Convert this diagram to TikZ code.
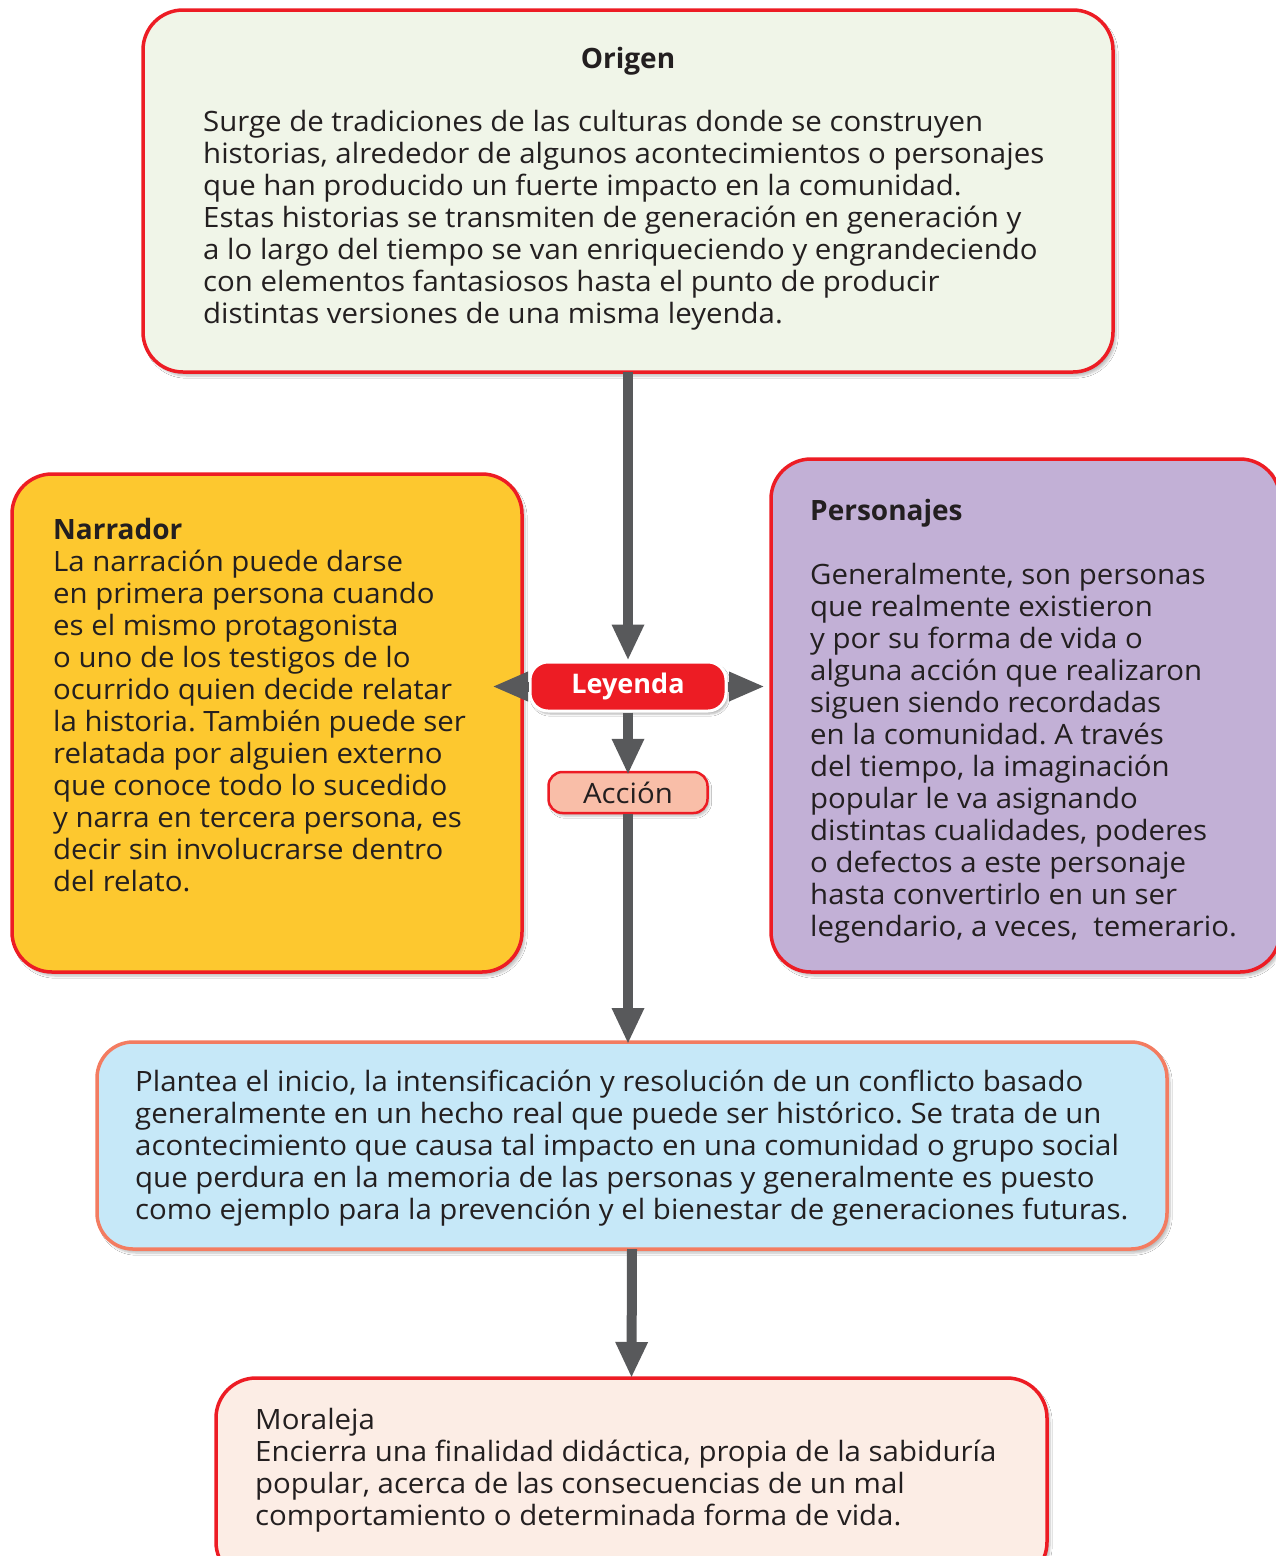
\documentclass[tikz,border=0pt]{standalone}
\usepackage{fontspec}
\setmainfont{Open Sans}[FakeStretch=1.05]
\newfontfamily\titlefont{Open Sans}
\usetikzlibrary{arrows.meta,shadows.blur}
\definecolor{txtc}{HTML}{231F20}
\definecolor{redb}{HTML}{ED1C24}
\definecolor{origenf}{HTML}{F0F5E8}
\definecolor{yellowf}{HTML}{FDC82F}
\definecolor{purplef}{HTML}{C2B0D6}
\definecolor{bluef}{HTML}{C6E8F8}
\definecolor{salmonb}{HTML}{F37C61}
\definecolor{moralf}{HTML}{FCEDE5}
\definecolor{accionf}{HTML}{F9BEA8}
\definecolor{arrowc}{HTML}{58595B}
\begin{document}
\begin{tikzpicture}[x=1pt,y=-1pt,
  box/.style={draw=redb, line width=3.5pt, rounded corners=40pt, inner sep=0pt, outer sep=0pt,
    blur shadow={shadow xshift=3pt, shadow yshift=-4pt, shadow blur steps=6, shadow opacity=25}},
  txt/.style={anchor=north west, inner sep=0pt, align=left, text=txtc,
    font=\fontsize{28}{32}\selectfont\frenchspacing},
  conn/.style={draw=arrowc, line width=10pt, -{Triangle[width=30pt,length=36pt]}},
  side/.style={draw=arrowc, line width=10pt, -{Triangle[width=27pt,length=36pt]}}
]
\useasboundingbox (0,0) rectangle (1275,1556);
\fill[white] (0,0) rectangle (1275,1556);

% boxes
\node[box, fill=origenf, minimum width=970pt, minimum height=362pt] (origen) at (628,191) {};
\node[box, fill=yellowf, minimum width=510pt, minimum height=498pt] (narrador) at (267,723) {};
\node[box, fill=purplef, minimum width=509pt, minimum height=513pt] (personajes) at (1025.5,715.5) {};
\node[box, draw=salmonb, fill=bluef, rounded corners=36pt, minimum width=1070pt, minimum height=207pt] (accionbox) at (632,1145.5) {};
\node[box, fill=moralf, minimum width=831pt, minimum height=204pt] (moraleja) at (631.5,1480) {};

% Leyenda and Accion
\node[draw=white, fill=redb, line width=3pt, rounded corners=18pt, minimum width=196pt, minimum height=49pt,
  inner sep=0pt, text=white, font=\titlefont\fontsize{27}{32}\selectfont\bfseries,
  blur shadow={shadow xshift=2pt, shadow yshift=-3pt, shadow blur steps=5, shadow opacity=30}] (leyenda) at (628,686.5) {Leyenda};
\node[draw=redb, fill=accionf, line width=2.5pt, rounded corners=14pt, minimum width=159pt, minimum height=41pt,
  inner sep=0pt, text=txtc, font=\fontsize{28}{32}\selectfont,
  blur shadow={shadow xshift=2pt, shadow yshift=-3pt, shadow blur steps=5, shadow opacity=25}] (accion) at (628,792.5) {Acción};

% texts
\node[inner sep=0pt, anchor=base, text=txtc, font=\titlefont\fontsize{28}{32}\selectfont\bfseries] (origentitle) at (628,68) {Origen};
\node[txt] (origentext) at (203,108.6) {\strut Surge de tradiciones de las culturas donde se construyen\\
historias, alrededor de algunos acontecimientos o personajes\\
que han producido un fuerte impacto en la comunidad.\\
Estas historias se transmiten de generación en generación y\\
a lo largo del tiempo se van enriqueciendo y engrandeciendo\\
con elementos fantasiosos hasta el punto de producir\\
distintas versiones de una misma leyenda.};

\node[txt] (narradortext) at (53,516.6) {\strut{\titlefont\bfseries Narrador}\\
La narración puede darse\\
en primera persona cuando\\
es el mismo protagonista\\
o uno de los testigos de lo\\
ocurrido quien decide relatar\\
la historia. También puede ser\\
relatada por alguien externo\\
que conoce todo lo sucedido\\
y narra en tercera persona, es\\
decir sin involucrarse dentro\\
del relato.};

\node[txt] (personajestext) at (810,497.6) {\strut{\titlefont\bfseries Personajes}\\[32pt]
Generalmente, son personas\\
que realmente existieron\\
y por su forma de vida o\\
alguna acción que realizaron\\
siguen siendo recordadas\\
en la comunidad. A través\\
del tiempo, la imaginación\\
popular le va asignando\\
distintas cualidades, poderes\\
o defectos a este personaje\\
hasta convertirlo en un ser\\
legendario, a veces,\ \ temerario.};

\node[txt] (accionboxtext) at (135,1068.6) {\strut Plantea el inicio, la intensificación y resolución de un conflicto basado\\
generalmente en un hecho real que puede ser histórico. Se trata de un\\
acontecimiento que causa tal impacto en una comunidad o grupo social\\
que perdura en la memoria de las personas y generalmente es puesto\\
como ejemplo para la prevención y el bienestar de generaciones futuras.};

\node[txt] (moralejatext) at (255,1406.6) {\strut Moraleja\\
Encierra una finalidad didáctica, propia de la sabiduría\\
popular, acerca de las consecuencias de un mal\\
comportamiento o determinada forma de vida.};

% connectors
\coordinate (lefttip) at (492,686.5);
\coordinate (righttip) at (765,686.5);
\draw[conn] (origen.south) -- (leyenda.north);
\draw[side] (leyenda.west) -- (lefttip);
\draw[side] (leyenda.east) -- (righttip);
\draw[conn] (leyenda.south) -- ([yshift=-4pt]accion.north);
\draw[conn] (accion.south) -- ([yshift=-2pt]accion.south |- accionbox.north);
\draw[conn] (accionbox.south) -- (moraleja.north);
\end{tikzpicture}
\end{document}
